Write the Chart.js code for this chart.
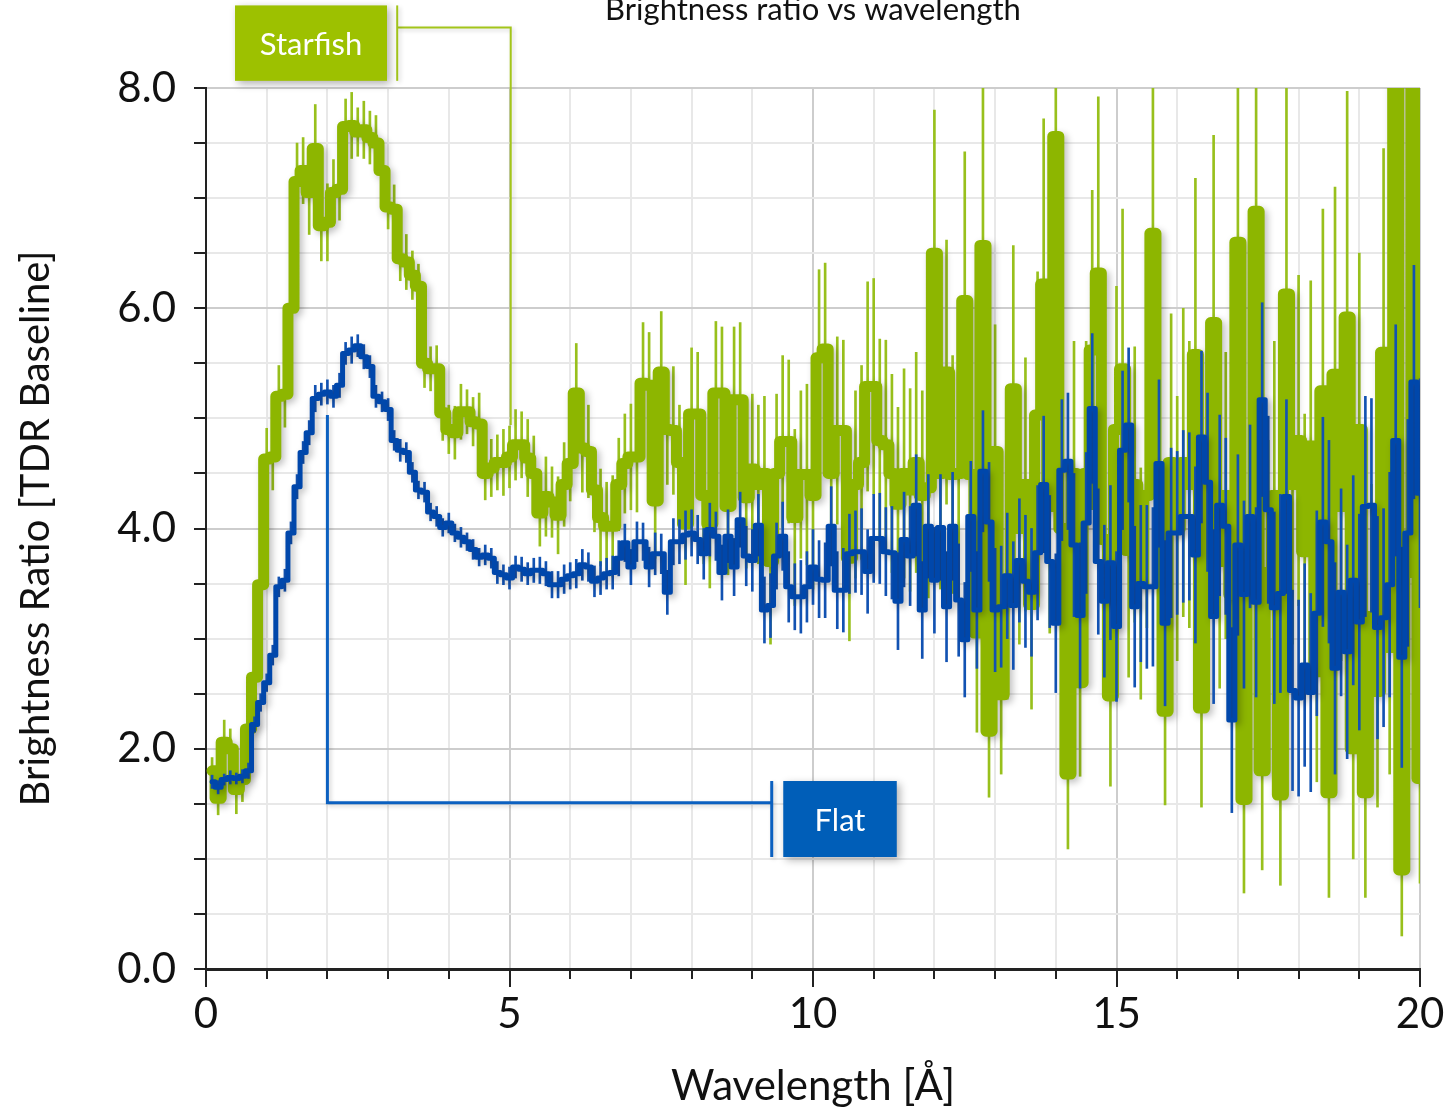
<!DOCTYPE html>
<html>
<head>
<meta charset="utf-8">
<script src="https://cdn.jsdelivr.net/npm/chart.js@4.4.1/dist/chart.umd.min.js"></script>
<style>
html,body{margin:0;padding:0;background:#fff;}
#wrap{width:1451px;height:1115px;position:relative;}
</style>
</head>
<body>
<div id="wrap"><canvas id="c" width="1451" height="1115"></canvas></div>
<script>
// ---- data (bin centres in Å) ----
const wavelength = [
0.1,0.2,0.3,0.4,0.5,0.6,0.7,0.8,0.9,1.0,1.1,1.2,1.3,1.4,1.5,1.6,1.7,1.8,1.9,2.0,
2.1,2.2,2.3,2.4,2.5,2.6,2.7,2.8,2.9,3.0,3.1,3.2,3.3,3.4,3.5,3.6,3.7,3.8,3.9,4.0,
4.1,4.2,4.3,4.4,4.5,4.6,4.7,4.8,4.9,5.0,5.1,5.2,5.3,5.4,5.5,5.6,5.7,5.8,5.9,6.0,
6.1,6.2,6.3,6.4,6.5,6.6,6.7,6.8,6.9,7.0,7.1,7.2,7.3,7.4,7.5,7.6,7.7,7.8,7.9,8.0,
8.1,8.2,8.3,8.4,8.5,8.6,8.7,8.8,8.9,9.0,9.1,9.2,9.3,9.4,9.5,9.6,9.7,9.8,9.9,10.0,
10.1,10.2,10.3,10.4,10.5,10.6,10.7,10.8,10.9,11.0,11.1,11.2,11.3,11.4,11.5,11.6,11.7,11.8,11.9,12.0,
12.1,12.2,12.3,12.4,12.5,12.6,12.7,12.8,12.9,13.0,13.1,13.2,13.3,13.4,13.5,13.6,13.7,13.8,13.9,14.0,
14.1,14.2,14.3,14.4,14.5,14.6,14.7,14.8,14.9,15.0,15.1,15.2,15.3,15.4,15.5,15.6,15.7,15.8,15.9,16.0,
16.1,16.2,16.3,16.4,16.5,16.6,16.7,16.8,16.9,17.0,17.1,17.2,17.3,17.4,17.5,17.6,17.7,17.8,17.9,18.0,
18.1,18.2,18.3,18.4,18.5,18.6,18.7,18.8,18.9,19.0,19.1,19.2,19.3,19.4,19.5,19.6,19.7,19.8,19.9,20.0
];

const starfishRatio = [
1.80,1.55,2.06,2.00,1.63,1.72,2.18,2.65,3.49,4.63,
4.65,5.20,5.22,6.00,7.15,7.25,7.05,7.45,6.75,6.78,
7.05,7.08,7.65,7.66,7.60,7.62,7.55,7.50,7.25,6.92,
6.90,6.45,6.42,6.30,6.20,5.50,5.45,5.45,5.05,4.90,
4.87,5.06,5.06,4.97,4.95,4.50,4.55,4.60,4.60,4.65,
4.76,4.76,4.64,4.50,4.14,4.29,4.24,4.12,4.40,4.59,
5.23,4.73,4.70,4.35,4.10,4.02,4.02,4.40,4.59,4.65,
4.65,5.32,5.30,4.25,5.42,4.90,4.89,4.60,4.04,5.04,
5.04,4.30,4.04,5.23,5.23,4.20,5.17,5.17,4.28,4.54,
4.40,4.50,3.70,4.50,4.79,4.79,4.10,4.49,4.49,4.30,
5.55,5.63,4.50,4.89,4.89,3.73,4.40,4.60,5.29,5.29,
4.80,4.76,4.50,4.22,4.50,4.35,4.60,4.30,4.37,6.50,
4.50,5.42,4.49,4.50,6.07,4.49,3.05,6.57,2.16,4.70,
2.49,3.40,5.27,4.00,4.40,3.31,5.03,6.22,4.20,7.56,
4.00,1.77,4.50,2.60,4.50,5.62,6.32,3.90,2.48,4.90,
5.45,3.80,4.40,3.50,4.30,6.68,4.50,2.34,4.60,4.00,
4.60,4.40,5.58,2.37,4.40,5.87,3.70,4.30,3.40,6.60,
1.54,4.00,6.88,1.80,3.60,4.30,1.58,6.13,4.40,4.80,
3.79,4.75,2.70,5.25,1.60,5.40,4.20,5.92,2.00,4.90,
1.60,3.20,2.52,5.60,2.92,8.90,0.90,3.60,8.70,1.73
];

const starfishError = [
0.12,0.15,0.20,0.18,0.22,0.20,0.25,0.22,0.25,0.28,
0.30,0.28,0.30,0.32,0.35,0.30,0.38,0.40,0.32,0.35,
0.30,0.28,0.25,0.30,0.22,0.26,0.24,0.25,0.22,0.20,
0.22,0.20,0.25,0.22,0.20,0.22,0.20,0.21,0.25,0.22,
0.24,0.25,0.20,0.22,0.28,0.24,0.26,0.25,0.30,0.28,
0.32,0.30,0.35,0.34,0.30,0.36,0.32,0.35,0.38,0.34,
0.45,0.40,0.42,0.38,0.44,0.40,0.46,0.42,0.45,0.48,
0.50,0.55,0.48,0.52,0.55,0.50,0.58,0.52,0.55,0.60,
0.56,0.62,0.58,0.65,0.60,0.62,0.66,0.70,0.64,0.68,
0.72,0.70,0.75,0.72,0.78,0.74,0.80,0.76,0.82,0.85,
0.80,0.78,0.80,0.85,0.82,0.75,0.85,0.88,0.95,0.98,
0.92,0.95,0.90,0.88,0.95,0.92,1.00,0.95,1.00,1.30,
1.05,1.20,1.08,1.10,1.35,1.10,0.90,1.45,0.60,1.15,
0.72,0.95,1.30,1.05,1.15,0.95,1.30,1.50,1.15,1.70,
1.10,0.68,1.20,0.85,1.20,1.45,1.60,1.10,0.82,1.30,
1.45,1.15,1.25,1.05,1.20,1.75,1.30,0.85,1.35,1.20,
1.40,1.30,1.60,0.90,1.35,1.70,1.15,1.30,1.10,1.85,
0.85,1.30,1.90,0.90,1.20,1.40,0.82,1.90,1.45,1.50,
1.25,1.50,1.00,1.65,0.95,1.70,1.40,2.05,1.00,1.60,
0.95,1.20,1.05,1.85,1.15,2.40,0.60,1.30,2.30,0.95
];

const flatRatio = [
1.70,1.65,1.72,1.74,1.73,1.75,1.80,2.22,2.42,2.60,
2.85,3.47,3.53,3.96,4.38,4.69,4.87,5.18,5.22,5.24,
5.20,5.30,5.59,5.62,5.66,5.56,5.47,5.20,5.15,5.08,
4.80,4.71,4.69,4.51,4.35,4.33,4.15,4.11,4.01,4.05,
3.96,3.92,3.88,3.81,3.74,3.76,3.73,3.60,3.58,3.55,
3.65,3.63,3.59,3.62,3.62,3.59,3.49,3.49,3.54,3.57,
3.59,3.67,3.65,3.52,3.55,3.59,3.60,3.73,3.87,3.65,
3.88,3.88,3.65,3.77,3.77,3.42,3.88,3.88,3.94,3.96,
3.90,3.77,3.99,3.93,3.60,3.93,3.65,4.08,3.75,3.71,
4.03,3.26,3.30,3.75,3.93,3.47,3.38,3.38,3.47,3.65,
3.54,3.53,4.02,3.44,3.44,3.77,3.79,3.79,3.61,3.91,
3.91,3.79,3.78,3.34,3.90,3.75,4.21,3.26,4.02,3.53,
4.01,3.29,4.02,3.35,2.99,4.11,3.26,4.52,4.06,3.26,
3.29,3.57,3.30,3.71,3.52,3.42,3.78,4.40,3.70,3.14,
4.53,4.61,3.85,3.21,4.05,5.09,3.70,3.34,3.69,3.11,
4.71,4.94,3.29,3.50,3.47,3.47,4.59,3.14,3.96,3.96,
4.11,4.11,3.76,4.83,4.42,3.20,4.21,4.02,2.26,3.85,
3.40,4.11,3.33,5.17,4.17,3.28,3.41,4.29,2.53,2.46,
2.76,2.51,3.23,4.06,3.88,2.73,3.42,2.88,3.53,3.15,
4.20,4.21,3.10,3.19,3.49,4.80,2.83,3.96,5.33,4.32
];

const flatError = [
0.06,0.06,0.05,0.06,0.05,0.06,0.07,0.07,0.08,0.08,
0.09,0.09,0.10,0.10,0.11,0.10,0.11,0.12,0.10,0.11,
0.10,0.11,0.10,0.12,0.10,0.11,0.10,0.10,0.09,0.10,
0.09,0.10,0.09,0.09,0.08,0.09,0.08,0.09,0.08,0.09,
0.08,0.09,0.08,0.09,0.08,0.09,0.09,0.10,0.09,0.10,
0.10,0.11,0.10,0.11,0.12,0.11,0.12,0.12,0.13,0.12,
0.13,0.14,0.13,0.14,0.15,0.14,0.15,0.16,0.17,0.16,
0.18,0.17,0.18,0.19,0.18,0.20,0.21,0.20,0.22,0.21,
0.22,0.23,0.24,0.22,0.25,0.24,0.26,0.25,0.27,0.28,
0.28,0.30,0.29,0.30,0.31,0.32,0.30,0.33,0.32,0.34,
0.35,0.34,0.36,0.35,0.38,0.36,0.37,0.39,0.38,0.40,
0.41,0.40,0.42,0.44,0.43,0.45,0.46,0.44,0.47,0.48,
0.48,0.50,0.49,0.51,0.52,0.50,0.53,0.55,0.54,0.56,
0.55,0.57,0.58,0.56,0.60,0.58,0.61,0.62,0.60,0.63,
0.64,0.62,0.65,0.66,0.64,0.68,0.66,0.69,0.70,0.68,
0.72,0.70,0.73,0.71,0.74,0.72,0.76,0.75,0.77,0.74,
0.78,0.76,0.80,0.78,0.81,0.79,0.82,0.80,0.84,0.82,
0.85,0.83,0.86,0.88,0.85,0.87,0.90,0.88,0.91,0.89,
0.92,0.90,0.93,0.95,0.92,0.96,0.94,0.97,0.95,0.98,
1.00,0.97,1.01,0.99,1.02,1.05,1.00,1.03,1.06,1.04
];

const xLabelTicks = [0, 5, 10, 15, 20];
const yLabelTicks = [0, 2, 4, 6, 8];

// ---- styling ----
const GREEN = '#8db600';
const GREEN_ERR = '#98c01c';
const BLUE = '#0047ab';
const BLUE_ERR = '#1252b2';
const FONT = 'Lato, "Open Sans", sans-serif';

const callouts = [
  {label: 'Starfish', fill: '#9dc100', stroke: '#a3c51a', width: 2,
   anchorX: 5.02, anchorY: 4.94, elbowY: 8.55, barX: 3.15, barTop: 8.75, barBottom: 8.065,
   boxLeft: 0.478, boxRight: 2.982},
  {label: 'Flat', fill: '#005eb8', stroke: '#0b60c0', width: 3,
   anchorX: 2.0, anchorY: 5.03, elbowY: 1.51, barX: 9.32, barTop: 1.707, barBottom: 1.017,
   boxLeft: 9.51, boxRight: 11.38}
];

const shadowPlugin = {
  id: 'lineShadow',
  beforeDatasetDraw(chart, args) {
    const ds = chart.data.datasets[args.index];
    if (!ds.shadowColor) return;
    const c = chart.ctx;
    c.save();
    c.shadowColor = ds.shadowColor;
    c.shadowBlur = 7;
    c.shadowOffsetX = 3;
    c.shadowOffsetY = 3;
  },
  afterDatasetDraw(chart, args) {
    const ds = chart.data.datasets[args.index];
    if (!ds.shadowColor) return;
    chart.ctx.restore();
  }
};

const majorTickPlugin = {
  id: 'majorTicks',
  afterDraw(chart) {
    const c = chart.ctx, xs = chart.scales.x, y0 = chart.chartArea.bottom;
    c.save();
    c.strokeStyle = '#222';
    c.lineWidth = 2;
    c.beginPath();
    xLabelTicks.forEach(v => {
      const x = Math.round(xs.getPixelForValue(v));
      c.moveTo(x, y0);
      c.lineTo(x, y0 + 18);
    });
    c.stroke();
    c.restore();
  }
};

const calloutPlugin = {
  id: 'callouts',
  afterDraw(chart) {
    const c = chart.ctx, xs = chart.scales.x, ys = chart.scales.y;
    callouts.forEach(a => {
      const bx = xs.getPixelForValue(a.barX);
      const ey = ys.getPixelForValue(a.elbowY);
      const ax = xs.getPixelForValue(a.anchorX);
      const ay = ys.getPixelForValue(a.anchorY);
      const top = ys.getPixelForValue(a.barTop);
      const bot = ys.getPixelForValue(a.barBottom);
      const l = xs.getPixelForValue(a.boxLeft);
      const r = xs.getPixelForValue(a.boxRight);
      c.save();
      c.strokeStyle = a.stroke;
      c.lineWidth = a.width;
      c.shadowColor = 'rgba(0,0,0,0.18)';
      c.shadowBlur = 4; c.shadowOffsetX = 2; c.shadowOffsetY = 2;
      c.beginPath();
      c.moveTo(bx, ey); c.lineTo(ax, ey); c.lineTo(ax, ay);
      c.stroke();
      c.beginPath();
      c.moveTo(bx, top); c.lineTo(bx, bot);
      c.stroke();
      c.shadowColor = 'rgba(0,0,0,0.3)';
      c.shadowBlur = 8; c.shadowOffsetX = 3; c.shadowOffsetY = 3;
      c.fillStyle = a.fill;
      c.fillRect(l, top, r - l, bot - top);
      c.shadowColor = 'rgba(0,0,0,0)';
      c.fillStyle = '#ffffff';
      c.font = '31px ' + FONT;
      c.textAlign = 'center';
      c.textBaseline = 'middle';
      c.fillText(a.label, (l + r) / 2, (top + bot) / 2 + 2);
      c.restore();
    });
  }
};

function build() {
  const starPts = wavelength.map((x, i) => ({x: x, y: starfishRatio[i]}));
  const starErrPts = wavelength.map((x, i) => ({x: x, y: [starfishRatio[i] - starfishError[i], starfishRatio[i] + starfishError[i]]}));
  const flatPts = wavelength.map((x, i) => ({x: x, y: flatRatio[i]}));
  const flatErrPts = wavelength.map((x, i) => ({x: x, y: [flatRatio[i] - flatError[i], flatRatio[i] + flatError[i]]}));

  Chart.defaults.font.family = FONT;
  Chart.defaults.color = '#111';

  new Chart(document.getElementById('c'), {
    type: 'line',
    data: {
      datasets: [
        {type: 'line', label: 'Flat', data: flatPts, borderColor: BLUE, borderWidth: 5,
         stepped: 'middle', pointRadius: 0, borderJoinStyle: 'round', borderCapStyle: 'round',
         fill: false, order: 1, clip: 0, shadowColor: 'rgba(0,0,0,0.28)'},
        {type: 'bar', label: 'Flat error', data: flatErrPts, backgroundColor: BLUE_ERR,
         barThickness: 2, grouped: false, order: 2, borderWidth: 0},
        {type: 'line', label: 'Starfish', data: starPts, borderColor: GREEN, borderWidth: 11,
         stepped: 'middle', pointRadius: 0, borderJoinStyle: 'round', borderCapStyle: 'round',
         fill: false, order: 3, clip: 0, shadowColor: 'rgba(0,0,0,0.25)'},
        {type: 'bar', label: 'Starfish error', data: starErrPts, backgroundColor: GREEN_ERR,
         barThickness: 2, grouped: false, order: 4, borderWidth: 0}
      ]
    },
    options: {
      responsive: false,
      animation: false,
      devicePixelRatio: 1,
      layout: {padding: {left: 0, right: 31, top: 0, bottom: 0}},
      plugins: {
        legend: {display: false},
        tooltip: {enabled: false},
        title: {
          display: true,
          fullSize: false,
          text: 'Brightness ratio vs wavelength',
          font: {size: 31, weight: 'normal'},
          color: '#111',
          padding: {top: -9, bottom: 59.8}
        }
      },
      scales: {
        x: {
          type: 'linear', min: 0, max: 20, offset: false,
          afterFit(s) { s.height = 146; s.paddingRight = 0; s.paddingLeft = 0; },
          ticks: {
            stepSize: 1, autoSkip: false, maxRotation: 0, minRotation: 0,
            font: {size: 42}, color: '#111', padding: 10,
            callback: v => xLabelTicks.includes(v) ? String(v) : ''
          },
          grid: {
            offset: false,
            color: c => (c.tick && c.tick.value % 5 === 0) ? '#cdcdcd' : '#e8e8e8',
            lineWidth: 2, tickColor: '#222', tickWidth: 2, tickLength: 10
          },
          border: {color: '#222', width: 3},
          title: {display: true, text: 'Wavelength [Å]', font: {size: 42}, color: '#111',
                  padding: {top: 0, bottom: 3}}
        },
        y: {
          type: 'linear', min: 0, max: 8,
          afterFit(s) { s.width = 206; },
          ticks: {
            stepSize: 0.5, autoSkip: false, font: {size: 42}, color: '#111', padding: 18,
            callback: v => yLabelTicks.includes(v) ? v.toFixed(1) : ''
          },
          grid: {
            color: c => (c.tick && c.tick.value % 2 === 0) ? '#cdcdcd' : '#e8e8e8',
            lineWidth: 2, tickColor: '#222', tickWidth: 2, tickLength: 12
          },
          border: {color: '#222', width: 2},
          title: {display: true, text: 'Brightness Ratio [TDR Baseline]', font: {size: 40}, color: '#111',
                  padding: {top: 12, bottom: 0}}
        }
      }
    },
    plugins: [shadowPlugin, majorTickPlugin, calloutPlugin]
  });
}

if (document.fonts && document.fonts.load) {
  Promise.all([document.fonts.load('42px Lato'), document.fonts.load('31px Lato')])
    .then(build, build);
} else {
  build();
}
</script>
</body>
</html>
